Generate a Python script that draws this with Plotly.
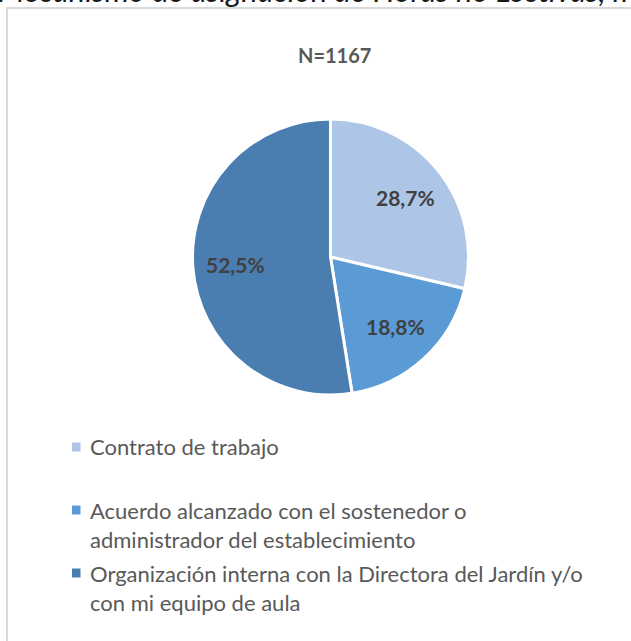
import math
import plotly.graph_objects as go

categories = [
    "Contrato de trabajo",
    "Acuerdo alcanzado con el sostenedor o<br>administrador del establecimiento",
    "Organización interna con la Directora del Jardín y/o<br>con mi equipo de aula",
]
values = [28.7, 18.8, 52.5]
colors = ["#ADC5E7", "#5B9BD5", "#4A7EB0"]
title_text = "N=1167"
caption_text = "Mecanismo de asignación de Horas no Lectivas, ma"

W, H = 631, 641
FONT = "Lato"
CX, CY, R = 330.5, 257, 138


def px(x):
    return x / W


def py(y):
    return 1 - y / H


fig = go.Figure()
fig.add_trace(go.Pie(
    labels=categories,
    values=values,
    sort=False,
    direction="clockwise",
    rotation=0,
    marker=dict(colors=colors, line=dict(color="white", width=3)),
    textinfo="none",
    domain=dict(x=[px(CX - R), px(CX + R)], y=[py(CY + R), py(CY - R)]),
    hoverinfo="label+percent",
    showlegend=False,
))

annotations = []
# data labels placed along each slice's mid-angle (derived from the values)
total = sum(values)
cum = 0.0
for v in values:
    mid = (cum + v / 2) / total * 2 * math.pi
    cum += v
    r = 0.69 * R
    lx = CX + r * math.sin(mid)
    ly = CY - r * math.cos(mid)
    annotations.append(dict(
        text=f"{v:.1f}%".replace(".", ","), xref="paper", yref="paper",
        x=px(lx), y=py(ly), xanchor="center", yanchor="middle", showarrow=False,
        font=dict(family=FONT, size=21, color="#404040", weight="bold")))

# title
annotations.append(dict(
    text=title_text, xref="paper", yref="paper",
    x=px(334), y=py(55), xanchor="center", yanchor="middle", showarrow=False,
    font=dict(family=FONT, size=20, color="#595959", weight="bold")))

# clipped caption above the chart box
annotations.append(dict(
    text="<i>" + caption_text + "</i>", xref="paper", yref="paper",
    x=px(-4), y=py(11), xanchor="left", yanchor="bottom", showarrow=False,
    font=dict(family=FONT, size=31, color="#1A1A1A")))

# legend (custom layout to match the line spacing of the original)
shapes = [dict(type="rect", xref="paper", yref="paper",
               x0=px(7), x1=px(W + 20), y0=py(H + 20), y1=py(8),
               line=dict(color="#D9D9D9", width=2),
               fillcolor="rgba(0,0,0,0)", layer="below")]
LEG_Y0, LINE_H, SLOT = 447, 29, 63
for i, (name, col) in enumerate(zip(categories, colors)):
    y0 = LEG_Y0 + i * SLOT
    shapes.append(dict(type="rect", xref="paper", yref="paper",
                       x0=px(72), x1=px(80.5), y0=py(y0 + 4.5), y1=py(y0 - 4.5),
                       line=dict(width=0), fillcolor=col))
    for j, line in enumerate(name.split("<br>")):
        annotations.append(dict(
            text=line, xref="paper", yref="paper",
            x=px(88), y=py(y0 + j * LINE_H), xanchor="left", yanchor="middle",
            showarrow=False,
            font=dict(family=FONT, size=22, color="#595959")))

fig.update_layout(
    width=W, height=H,
    margin=dict(l=0, r=0, t=0, b=0),
    paper_bgcolor="white",
    plot_bgcolor="white",
    separators=",.",
    showlegend=False,
    shapes=shapes,
    annotations=annotations,
)

fig.write_html("out.html",
               config={"displayModeBar": False},
               post_script="document.body.style.margin='0px';document.body.style.overflow='hidden';")
